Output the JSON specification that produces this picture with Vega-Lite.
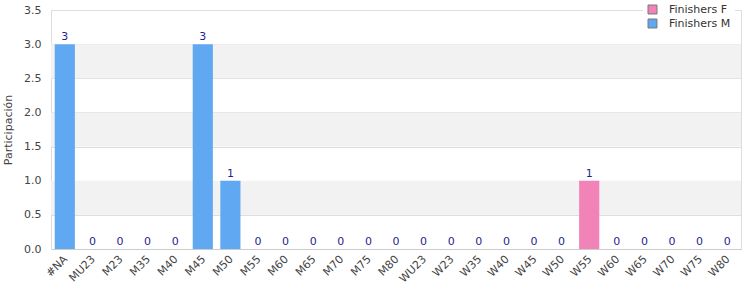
{
  "$schema": "https://vega.github.io/schema/vega-lite/v6.json",
  "autosize": "none",
  "width": 690,
  "height": 239,
  "padding": {"left": 51, "top": 10, "right": 9, "bottom": 51},
  "config": {
    "font": "DejaVu Sans",
    "view": {"stroke": "#dddddd"},
    "axis": {"labelFont": "DejaVu Sans", "labelFontSize": 11, "labelColor": "#444444", "titleFont": "DejaVu Sans", "titleFontSize": 11, "titleFontWeight": "normal", "titleColor": "#444444", "gridColor": "#dddddd", "domainColor": "#cccccc", "ticks": false, "labelOverlap": false},
    "axisY": {"values": [0, 0.5, 1, 1.5, 2, 2.5, 3, 3.5], "tickCount": 7, "format": ".1f", "titlePadding": 10, "domain": false, "labelPadding": 10, "labelOverlap": false}
  },
  "datasets": {
    "bands": [
      {"lo": 0.5, "hi": 1.0},
      {"lo": 1.5, "hi": 2.0},
      {"lo": 2.5, "hi": 3.0}
    ],
    "bars": [
      {"cat": "#NA", "serie": "Finishers M", "value": 3},
      {"cat": "MU23", "serie": "Finishers M", "value": 0},
      {"cat": "M23", "serie": "Finishers M", "value": 0},
      {"cat": "M35", "serie": "Finishers M", "value": 0},
      {"cat": "M40", "serie": "Finishers M", "value": 0},
      {"cat": "M45", "serie": "Finishers M", "value": 3},
      {"cat": "M50", "serie": "Finishers M", "value": 1},
      {"cat": "M55", "serie": "Finishers M", "value": 0},
      {"cat": "M60", "serie": "Finishers M", "value": 0},
      {"cat": "M65", "serie": "Finishers M", "value": 0},
      {"cat": "M70", "serie": "Finishers M", "value": 0},
      {"cat": "M75", "serie": "Finishers M", "value": 0},
      {"cat": "M80", "serie": "Finishers M", "value": 0},
      {"cat": "WU23", "serie": "Finishers F", "value": 0},
      {"cat": "W23", "serie": "Finishers F", "value": 0},
      {"cat": "W35", "serie": "Finishers F", "value": 0},
      {"cat": "W40", "serie": "Finishers F", "value": 0},
      {"cat": "W45", "serie": "Finishers F", "value": 0},
      {"cat": "W50", "serie": "Finishers F", "value": 0},
      {"cat": "W55", "serie": "Finishers F", "value": 1},
      {"cat": "W60", "serie": "Finishers F", "value": 0},
      {"cat": "W65", "serie": "Finishers F", "value": 0},
      {"cat": "W70", "serie": "Finishers F", "value": 0},
      {"cat": "W75", "serie": "Finishers F", "value": 0},
      {"cat": "W80", "serie": "Finishers F", "value": 0}
    ]
  },
  "layer": [
    {
      "data": {"name": "bands"},
      "mark": {"type": "rect", "color": "#f2f2f2"},
      "encoding": {
        "y": {"field": "lo", "type": "quantitative", "scale": {"domain": [0, 3.5], "nice": false},
          "axis": {"title": "Participación"}},
        "y2": {"field": "hi"}
      }
    },
    {
      "data": {"name": "bars"},
      "layer": [
        {
          "mark": {"type": "bar"},
          "encoding": {
            "x": {"field": "cat", "type": "nominal", "sort": null,
              "scale": {"paddingInner": 0.27, "paddingOuter": 0.135},
              "axis": {"title": null, "labelAngle": -45, "labelAlign": "right", "labelBaseline": "top", "labelPadding": 4, "labelOffset": -3}},
            "y": {"field": "value", "type": "quantitative", "stack": "zero",
              "axis": {"title": "Participación"}},
            "color": {"field": "serie", "type": "nominal",
              "scale": {"domain": ["Finishers F", "Finishers M"], "range": ["#f283b8", "#60a8f2"]},
              "legend": {"title": null, "orient": "none", "legendX": 592, "legendY": -10, "fillColor": "white", "padding": 4, "symbolType": "square", "symbolSize": 80, "symbolStrokeColor": "#777777", "symbolStrokeWidth": 1, "labelFontSize": 11, "labelColor": "#333333", "labelFont": "DejaVu Sans", "rowPadding": 1, "labelOffset": 11}}
          }
        },
        {
          "mark": {"type": "text", "color": "#1f1f8f", "fontSize": 11, "baseline": "bottom", "dy": -2},
          "encoding": {
            "x": {"field": "cat", "type": "nominal", "sort": null},
            "y": {"field": "value", "type": "quantitative", "aggregate": "sum", "axis": {"title": "Participación"}},
            "text": {"field": "value", "type": "quantitative", "aggregate": "sum"}
          }
        }
      ]
    }
  ]
}
